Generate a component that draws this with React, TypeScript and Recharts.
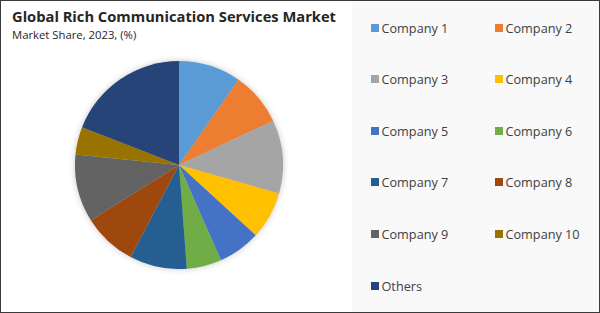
import React from "react";
import { PieChart, Pie, Cell, Legend } from "recharts";

const categories = [
  "Company 1", "Company 2", "Company 3", "Company 4", "Company 5",
  "Company 6", "Company 7", "Company 8", "Company 9", "Company 10", "Others",
];
const shares = [9.7, 8.3, 11.4, 7.4, 6.6, 5.4, 8.9, 8.4, 10.5, 4.3, 19.1];
const colors = [
  "#5B9BD5", "#ED7D31", "#A5A5A5", "#FFC000", "#4472C4",
  "#70AD47", "#255E91", "#9E480E", "#636363", "#997300", "#264478",
];

const data = categories.map((name, i) => ({ name, value: shares[i] }));

const FONT = "'Open Sans', 'Noto Sans', sans-serif";

const renderLegend = () => {
  return (
    <div style={{ position: "relative", width: 248, height: 311 }}>
      {categories.map((name, i) => {
        const col = i % 2;
        const row = Math.floor(i / 2);
        return (
          <div
            key={name}
            style={{
              position: "absolute",
              left: col === 0 ? 20 : 144,
              top: 19 + row * 51.6,
              display: "flex",
              alignItems: "center",
              fontFamily: FONT,
              fontSize: 12.7,
              color: "#404040",
              whiteSpace: "nowrap",
            }}
          >
            <span
              style={{
                display: "inline-block",
                width: 8,
                height: 8,
                background: colors[i],
                marginRight: 3,
              }}
            />
            {name}
          </div>
        );
      })}
    </div>
  );
};

export default function App() {
  return (
    <div
      style={{
        position: "absolute",
        left: 0,
        top: 0,
        width: 600,
        height: 313,
        boxSizing: "border-box",
        border: "1.5px solid #3a3a3a",
        background: "#ffffff",
        overflow: "hidden",
      }}
    >
      <style>{`.recharts-pie { filter: drop-shadow(0 0 3px rgba(0,0,0,0.22)); }`}</style>
      <div
        style={{
          position: "absolute",
          left: 351,
          top: 0,
          width: 250,
          height: 313,
          background: "#f9f9f9",
        }}
      />
      <div
        style={{
          position: "absolute",
          left: 11,
          top: 5,
          fontFamily: FONT,
          fontWeight: 700,
          fontSize: 14.7,
          color: "#262626",
          whiteSpace: "nowrap",
        }}
      >
        Global Rich Communication Services Market
      </div>
      <div
        style={{
          position: "absolute",
          left: 11,
          top: 26,
          fontFamily: FONT,
          fontSize: 11.3,
          color: "#262626",
          whiteSpace: "nowrap",
        }}
      >
        Market Share, 2023, (%)
      </div>
      <div style={{ position: "absolute", left: -1.5, top: -1.5 }}>
        <PieChart width={600} height={313} margin={{ top: 0, right: 0, bottom: 0, left: 0 }}>
          <Pie
            data={data}
            dataKey="value"
            nameKey="name"
            cx={179}
            cy={165}
            outerRadius={104}
            startAngle={90}
            endAngle={-270}
            stroke="none"
            isAnimationActive={false}
          >
            {data.map((d, i) => (
              <Cell key={d.name} fill={colors[i]} />
            ))}
          </Pie>
          <Legend
            content={renderLegend}
            wrapperStyle={{ position: "absolute", left: 351, top: 0, width: 248, height: 311 }}
          />
        </PieChart>
      </div>
    </div>
  );
}
